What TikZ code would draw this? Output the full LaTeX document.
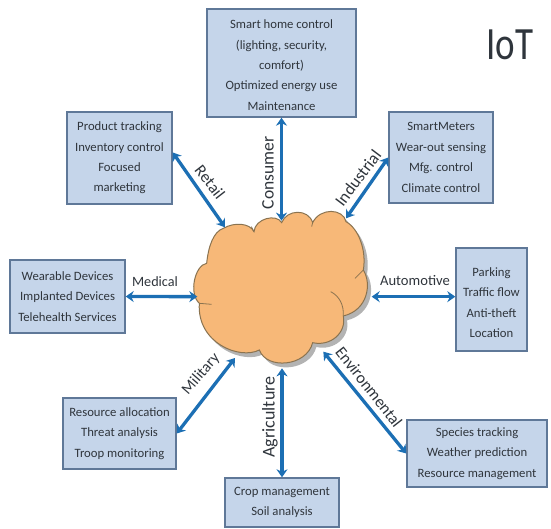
\documentclass[tikz,border=0pt]{standalone}
\usepackage{fontspec}
\usetikzlibrary{arrows.meta}
\setmainfont{Carlito}
\definecolor{boxfill}{HTML}{C5D5EA}
\definecolor{boxline}{HTML}{5F7898}
\definecolor{arrowblue}{HTML}{1C6FB4}
\definecolor{cloudfill}{HTML}{F7B878}
\definecolor{cloudline}{HTML}{8A7350}
\definecolor{txt}{HTML}{2F353C}
\tikzset{
  infobox/.style={draw=boxline,fill=boxfill,line width=1.4pt,align=center,inner sep=0pt,
    font=\fontsize{12.7}{20.4}\selectfont,text=txt},
  link/.style={draw=arrowblue,line width=3.3pt,{Stealth[length=8pt,width=11pt]}-{Stealth[length=8pt,width=11pt]}},
  tag/.style={font=\fontsize{#1}{#1}\selectfont,text=txt,inner sep=0pt}
}
\def\cloudshape{(130,175) .. controls (165,155) and (210,160) .. (222,185)
 .. controls (225,145) and (290,130) .. (305,158)
 .. controls (320,118) and (385,115) .. (398,158)
 .. controls (420,112) and (490,115) .. (498,155)
 .. controls (535,175) and (560,240) .. (550,300)
 .. controls (575,340) and (565,420) .. (490,438)
 .. controls (500,490) and (450,530) .. (398,518)
 .. controls (380,590) and (260,600) .. (238,540)
 .. controls (180,570) and (50,520) .. (58,400)
 .. controls (25,370) and (45,285) .. (80,280)
 .. controls (85,230) and (100,185) .. (130,175) -- cycle}
\begin{document}
\begin{tikzpicture}[x=1pt,y=-1pt]
\useasboundingbox (0,0) rectangle (551,529);
% boxes
\node[infobox,minimum width=149pt,minimum height=108pt] (consumer) at (281.5,63) {\rule{0pt}{13pt}Smart home control\\(lighting, security,\\comfort)\\Optimized energy use\\Maintenance};
\node[infobox,minimum width=104pt,minimum height=91pt] (industrial) at (441,157.5) {SmartMeters\\Wear-out sensing\\Mfg. control\\Climate control};
\node[infobox,minimum width=105pt,minimum height=92pt] (retail) at (119.5,158) {Product tracking\\Inventory control\\Focused\\marketing};
\node[infobox,minimum width=115pt,minimum height=73pt] (medical) at (67.5,296.5) {Wearable Devices\\Implanted Devices\\Telehealth Services};
\node[infobox,minimum width=71pt,minimum height=103pt] (automotive) at (491.5,299.5) {\rule{0pt}{15pt}Parking\\Traffic flow\\Anti-theft\\Location};
\node[infobox,minimum width=113pt,minimum height=71pt] (military) at (119.5,433.5) {Resource allocation\\Threat analysis\\Troop monitoring};
\node[infobox,minimum width=114pt,minimum height=49pt] (agriculture) at (282,502.5) {Crop management\\Soil analysis};
\node[infobox,minimum width=140pt,minimum height=67pt] (environmental) at (477,453.5) {Species tracking\\Weather prediction\\Resource management};
% cloud shadow and cloud
\begin{scope}[shift={(180,170)},scale=1/3]
\fill[black!50,opacity=.6,shift={(11,13)}] \cloudshape;
\draw[fill=cloudfill,draw=cloudline,line width=1pt] \cloudshape;
\draw[cloudline,line width=.8pt] (452,365) .. controls (478,378) and (492,405) .. (490,438);
\draw[cloudline,line width=.8pt] (58,400) -- (95,403);
\draw[cloudline,line width=.8pt] (550,300) -- (525,325);
\draw[cloudline,line width=.8pt] (222,185) -- (214,170);
\draw[cloudline,line width=.8pt] (398,158) -- (395,170);
\coordinate (cN) at (303,152);
\coordinate (cNW) at (135,172);
\coordinate (cNE) at (498,145);
\coordinate (cW) at (52,380);
\coordinate (cE) at (575,380);
\coordinate (cSW) at (165,564);
\coordinate (cS) at (305,595);
\coordinate (cSE) at (430,545);
\end{scope}
% connectors
\draw[link] (consumer.south) -- (consumer.south |- cN);
\draw[link] (retail.6) -- (cNW);
\draw[link] (industrial.west) -- (cNE);
\draw[link] (medical.east) -- (cW);
\draw[link] (cE -| automotive.west) -- (cE);
\draw[link] (military.east) -- (cSW);
\draw[link] (agriculture.north) -- (agriculture.north |- cS);
\draw[link] (environmental.west) -- (cSE);
% connector labels
\node[tag=16.5,rotate=-52] (lretail) at (210,182) {Retail};
\node[tag=17.5,rotate=90] (lconsumer) at (268,173) {Consumer};
\node[tag=17,rotate=53] (lindustrial) at (358,178) {Industrial};
\node[tag=14.2] (lmedical) at (155,282) {Medical};
\node[tag=14.6] (lautomotive) at (415,281) {Automotive};
\node[tag=15.5,rotate=49] (lmilitary) at (201,374) {Military};
\node[tag=18,rotate=90] (lagriculture) at (270,417) {Agriculture};
\node[tag=16.5,rotate=-52] (lenvironmental) at (369,387) {Environmental};
\node[font=\fontsize{37}{40}\selectfont,text=txt,inner sep=0pt,yscale=1.25] (title) at (510,45) {IoT};
\end{tikzpicture}
\end{document}
